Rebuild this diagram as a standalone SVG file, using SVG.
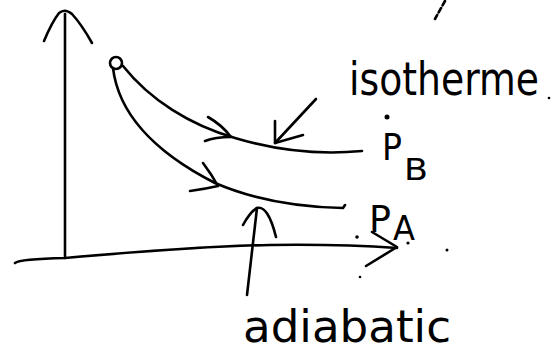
<svg xmlns="http://www.w3.org/2000/svg" width="553" height="353" viewBox="0 0 553 353">
<style>
.s{fill:none;stroke:#000;stroke-width:2.6;stroke-linecap:round;stroke-linejoin:round}
.t{font-family:"DejaVu Sans","Liberation Sans",sans-serif;fill:#000}
.d{fill:#000}
</style>
<rect width="553" height="353" fill="#fff"/>
<g id="connectors">
  <path class="s" d="M65,14 L65,258"/>
  <path class="s" d="M44,41 Q52,22 59,13 Q65,8 72,14 Q82,25 92,43"/>
  <path class="s" d="M15,263 Q20,259 65,258 Q200,246 270,245 Q340,244 397,248"/>
  <path class="s" d="M372,232 L397,247 L366,266"/>
  <path class="s" d="M123,66 C150,100 190,125 235,138 C275,150 320,155 362,151"/>
  <path class="s" d="M208,117 Q222,125 231,137 Q215,137 205,141"/>
  <path class="s" d="M113,68 C118,110 150,150 215,183 C250,198 290,207 343,208 L345,205"/>
  <path class="s" d="M203,163 Q212,175 218,186 Q205,189 190,191"/>
  <path class="s" d="M316,99 L275,143"/>
  <path class="s" d="M275,121 L275,143 L303,135"/>
  <path class="s" d="M247,295 L257,208"/>
  <path class="s" d="M243,225 Q250,212 257,208 Q268,205 276,237"/>
</g>
<g id="point">
  <circle class="s" cx="116" cy="63" r="6"/>
</g>
<g id="isotherme">
  <text class="t" x="349" y="95" font-size="46" textLength="190" lengthAdjust="spacingAndGlyphs">isotherme</text>
</g>
<g id="adiabatic">
  <text class="t" x="243" y="342" font-size="44" textLength="208" lengthAdjust="spacingAndGlyphs">adiabatic</text>
</g>
<g id="PB">
  <circle class="d" cx="387" cy="117" r="2.5"/>
  <text class="t" x="382" y="160" font-size="38" textLength="20" lengthAdjust="spacingAndGlyphs">P</text>
  <text class="t" x="404" y="180" font-size="30" textLength="24" lengthAdjust="spacingAndGlyphs">B</text>
</g>
<g id="PA">
  <text class="t" x="369" y="232" font-size="38" textLength="22" lengthAdjust="spacingAndGlyphs">P</text>
  <text class="t" x="393" y="240" font-size="34" textLength="22" lengthAdjust="spacingAndGlyphs">A</text>
</g>
<g id="marks">
  <path class="s" d="M445,1 L435,19" stroke-dasharray="5,3" stroke-width="1.6"/>
  <circle class="d" cx="357" cy="237" r="1.8"/>
  <circle class="d" cx="408" cy="243" r="1.6"/>
  <circle class="d" cx="447" cy="250" r="1.5"/>
  <circle class="d" cx="360" cy="277" r="1.3"/>
  <circle class="d" cx="549" cy="98" r="1.3"/>
</g>
</svg>
